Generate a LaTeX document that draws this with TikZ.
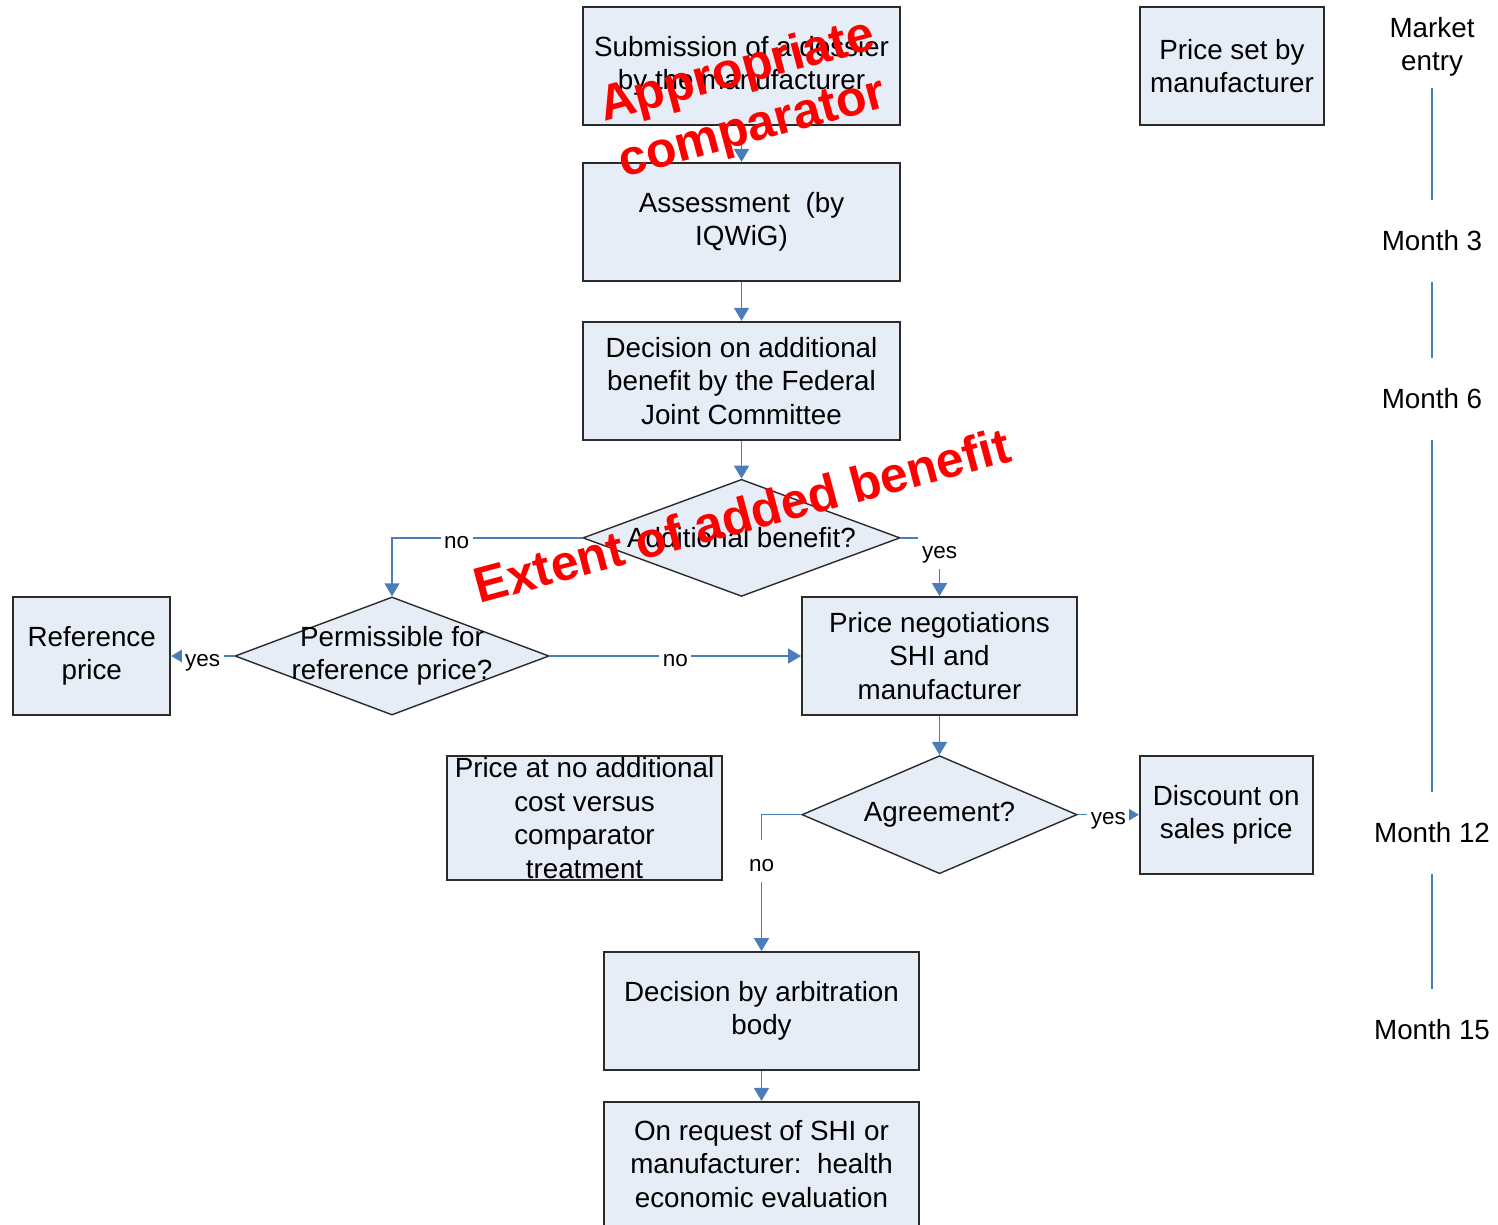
\documentclass[tikz,border=0pt]{standalone}
\usepackage{fontspec}
\setmainfont{Liberation Sans}
\usetikzlibrary{arrows.meta,positioning,shapes.geometric}
\definecolor{boxfill}{HTML}{E7EDF7}
\definecolor{linkblue}{HTML}{4A7EBB}
\definecolor{edge}{HTML}{2B2B2B}
\definecolor{stampred}{HTML}{FF0000}
\tikzset{
  process/.style={draw=edge,fill=boxfill,minimum height=1.18cm,inner sep=2pt,
                  align=center,font=\fontsize{7.9}{9.5}\selectfont,line width=0.5pt},
  decision/.style={diamond,draw=edge,fill=boxfill,inner sep=0pt,line width=0.4pt},
  dtext/.style={align=center,font=\fontsize{7.9}{9.5}\selectfont},
  month/.style={align=center,font=\fontsize{7.9}{9.5}\selectfont,
                minimum height=0.8cm,inner sep=0pt},
  lbl/.style={fill=white,inner sep=1pt,text height=1.5ex,text depth=0.4ex,
              font=\fontsize{6.4}{7}\selectfont},
  arrow/.style={-{Triangle[length=1.3mm,width=1.5mm]},draw=linkblue,line width=0.45pt},
  timeline/.style={draw=linkblue,line width=0.45pt},
  stamp/.style={text=stampred,font=\fontsize{14.2}{16.6}\selectfont\bfseries,
                align=center,rotate=15}
}
\begin{document}
\begin{tikzpicture}[x=0.01cm,y=-0.01cm]
\useasboundingbox (0,0) rectangle (1498,1224);
\clip (0,0) rectangle (1498,1224);
% main column
\node[process,minimum width=3.17cm] (sub) at (741.5,66) {Submission of a dossier\\by the manufacturer};
\node[process,minimum width=3.17cm,below=0.36cm of sub] (assess) {Assessment\ \ (by\\IQWiG)};
\node[process,minimum width=3.17cm,below=0.39cm of assess] (decide) {Decision on additional\\benefit by the Federal\\Joint Committee};
\node[decision,minimum width=3.17cm,minimum height=1.17cm,below=0.38cm of decide,
      label={[dtext]center:Additional benefit?}] (addben) {};
\node[process,minimum width=1.84cm] (priceset) at (1232,66) {Price set by\\manufacturer};
% left branch
\node[decision,minimum width=3.14cm,minimum height=1.18cm,
      label={[dtext]center:Permissible for\\reference price?}] (permiss) at (392,656) {};
\node[process,minimum width=1.57cm,left=0.63cm of permiss] (refprice) {Reference\\price};
% right branch
\node[process,minimum width=2.75cm] (negot) at (939.5,656) {Price negotiations\\SHI and\\manufacturer};
\node[decision,minimum width=2.75cm,minimum height=1.18cm,below=0.39cm of negot,
      label={[dtext]center:Agreement?}] (agree) {};
\node[process,minimum width=1.73cm,right=0.61cm of agree] (discount) {Discount on\\sales price};
\node[process,minimum width=2.75cm,minimum height=1.24cm,inner ysep=0pt] (noadd) at (584.5,818) {Price at no additional\\cost versus\\comparator\\treatment};
\node[process,minimum width=3.15cm] (arbit) at (761.5,1011) {Decision by arbitration\\body};
\node[process,minimum width=3.15cm,minimum height=1.24cm,below=0.30cm of arbit] (request) {On request of SHI or\\manufacturer:\ \ health\\economic evaluation};
% time scale
\node[month] (entry) at (1432,47) {Market\\entry};
\node[month] (m3) at (1432,241) {Month 3};
\node[month] (m6) at (1432,399) {Month 6};
\node[month] (m12) at (1432,833) {Month 12};
\node[month] (m15) at (1432,1030) {Month 15};
\draw[timeline] (entry) -- (m3);
\draw[timeline] (m3) -- (m6);
\draw[timeline] (m6) -- (m12);
\draw[timeline] (m12) -- (m15);
% connectors
\draw[arrow] (sub) -- (assess);
\draw[arrow] (assess) -- (decide);
\draw[arrow] (decide) -- (addben);
\draw[arrow] (addben.west) -| node[lbl,pos=0.33]{no} (permiss.north);
\draw[arrow] (addben.east) -| node[lbl,pos=0.5,yshift=-0.1cm]{yes} (negot.north);
\draw[arrow] (permiss) -- node[lbl]{yes} (refprice);
\draw[arrow] (permiss) -- node[lbl]{no} (negot);
\draw[arrow] (negot) -- (agree);
\draw[arrow] (agree) -- node[lbl]{yes} (discount);
\draw[arrow] (agree.west) -| node[lbl,pos=0.67]{no} (arbit.north);
\draw[arrow] (arbit) -- (request);
% red overlays
\node[stamp] (comp) at (745,101) {Appropriate\\comparator};
\node[stamp] (extent) at (742,515) {Extent of added benefit};
\end{tikzpicture}
\end{document}
